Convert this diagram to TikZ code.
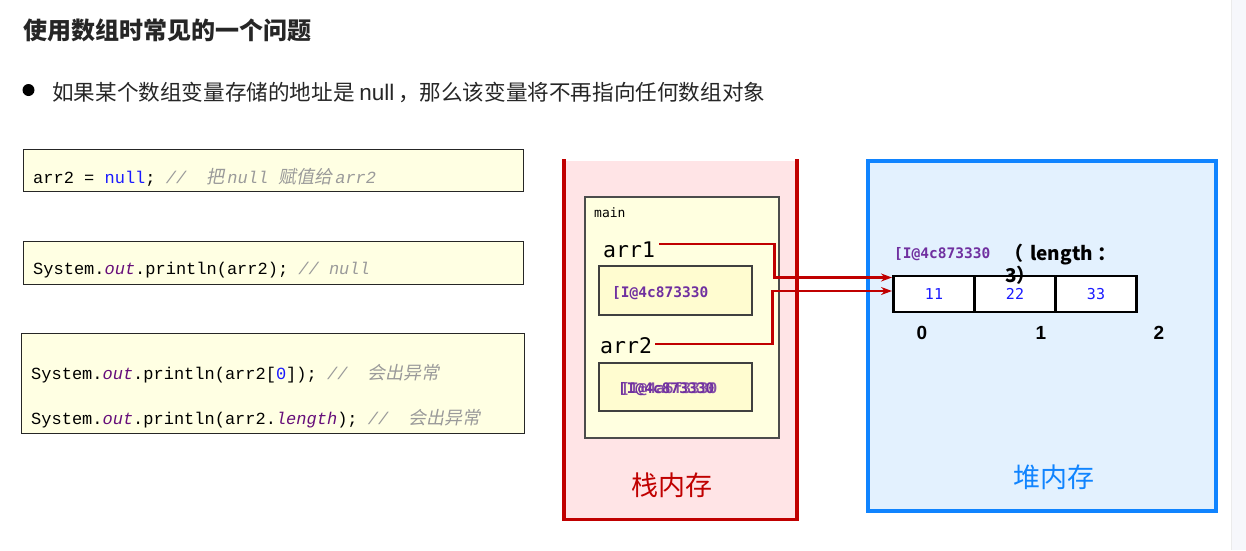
\documentclass[tikz,border=0pt]{standalone}
\usepackage{fontspec}
\setmainfont{Liberation Sans}
\setmonofont{DejaVu Sans Mono}
\newfontfamily\cjk{Noto Sans CJK SC}
\newfontfamily\cjkit[FakeSlant=0.2]{Noto Sans CJK SC}
\newfontfamily\codefont{Liberation Mono}
\usetikzlibrary{arrows.meta}
\definecolor{stackred}{HTML}{C00000}
\definecolor{stackfill}{HTML}{FFE4E6}
\definecolor{heapblue}{HTML}{1084FF}
\definecolor{heapfill}{HTML}{E3F1FE}
\definecolor{codefill}{HTML}{FFFFE3}
\definecolor{mainfill}{HTML}{FFFFE0}
\definecolor{varfill}{HTML}{FFFCD0}
\definecolor{addr}{HTML}{7030A0}
\definecolor{kw}{HTML}{1A1AFF}
\definecolor{fld}{HTML}{660E7A}
\definecolor{cmt}{HTML}{9A9A9A}
\definecolor{band}{HTML}{F6F7FB}
\tikzset{
  codebox/.style={draw=black!85, line width=1pt, fill=codefill},
  codeline/.style={anchor=west, inner sep=0pt, font=\codefont\fontsize{17}{20}\selectfont},
  varbox/.style={draw=black!75, line width=1.3pt, fill=varfill},
  addrtext/.style={anchor=west, inner sep=0pt, text=addr, font=\ttfamily\bfseries\fontsize{14.5}{16}\selectfont},
  varname/.style={anchor=west, inner sep=0pt, font=\ttfamily\fontsize{21.5}{24}\selectfont},
  cell/.style={draw=black, line width=2.2pt, fill=white, minimum width=81pt, minimum height=36pt, inner sep=0pt, text=kw, font=\ttfamily\fontsize{15}{17}\selectfont},
  idx/.style={inner sep=0pt, font=\bfseries\fontsize{19}{21}\selectfont},
  ptr/.style={draw=stackred, line width=2.4pt, -{Stealth[length=11pt,width=8pt]}},
}
\newcommand{\cm}[1]{\textcolor{cmt}{\itshape #1}}
\newcommand{\cmz}[1]{\textcolor{cmt}{\cjkit\fontsize{18}{20}\selectfont #1}}
\begin{document}
\begin{tikzpicture}[x=1pt,y=-1pt]
\useasboundingbox (0,0) rectangle (1246,550);
\fill[white] (0,0) rectangle (1246,550);
\fill[band] (1231,0) rectangle (1246,550);
\draw[black!8, line width=0.8pt] (1231,0) -- (1231,550);

% title and bullet
\node[anchor=west, inner sep=0pt, font=\cjk\bfseries\fontsize{24}{28}\selectfont, text=black!85] (title) at (23,30) {使用数组时常见的一个问题};
\fill (28.5,90) circle (6pt);
\node[anchor=west, inner sep=0pt, font=\cjk\fontsize{21.6}{25}\selectfont, text=black!85] (bullet) at (52,92) {如果某个数组变量存储的地址是\ {\fontspec{Liberation Sans}\fontsize{22.5}{25}\selectfont null}\,，那么该变量将不再指向任何数组对象};

% code boxes
\draw[codebox] (23,149) rectangle (523,191);
\node[codeline] (code1) at (33,177) {arr2 = \textcolor{kw}{null}; \cm{//}\ \ \cmz{把}\,\cm{null}\ \cmz{赋值给}\,\cm{arr2}};
\draw[codebox] (23,241) rectangle (523,284);
\node[codeline] (code2) at (33,270) {System.\textcolor{fld}{\itshape out}.println(arr2); \cm{// null}};
\draw[codebox] (21,333) rectangle (524,433);
\node[codeline] (code3) at (31,374) {System.\textcolor{fld}{\itshape out}.println(arr2[\textcolor{kw}{0}]); \cm{//}\ \ \cmz{会出异常}};
\node[codeline] (code4) at (31,419) {System.\textcolor{fld}{\itshape out}.println(arr2.\textcolor{fld}{\itshape length}); \cm{//}\ \ \cmz{会出异常}};

% stack
\fill[stackfill] (564,161) rectangle (797,520);
\draw[stackred, line width=3.5pt, line cap=rect] (564,161) -- (564,519.5) -- (797,519.5) -- (797,161);
\draw[draw=black!70, line width=1.3pt, fill=mainfill] (585,197) rectangle (779,438);
\node[anchor=west, inner sep=0pt, font=\ttfamily\fontsize{13}{15}\selectfont] (main) at (594,213) {main};
\node[varname] (arr1) at (603,250) {arr1};
\draw[varbox] (599,266) rectangle (752,315);
\node[addrtext] (v1) at (612,293) {[I@4c873330};
\node[varname] (arr2) at (600,346) {arr2};
\draw[varbox] (599,363) rectangle (752,411);
\node[addrtext] (v2) at (618,389) {[I@4c873330};
\node[addrtext, opacity=0.85] (v2b) at (621,389) {[I@4a6f3330};
\node[inner sep=0pt, text=stackred, font=\cjk\fontsize{27}{30}\selectfont] (stacklbl) at (672,485) {栈内存};

% heap
\draw[draw=heapblue, fill=heapfill, line width=4pt] (868,161) rectangle (1216,511);
\node[addrtext] (haddr) at (894,254) {[I@4c873330};
\node[cell] (c0) at (934,294) {11};
\node[cell] (c1) at (1015,294) {22};
\node[cell] (c2) at (1096,294) {33};
\node[anchor=west, inner sep=0pt, font=\cjk\bfseries\fontsize{19}{22}\selectfont] (len) at (1004,255) {（\hspace{7pt}length\ ：};
\node[anchor=west, inner sep=0pt, font=\cjk\bfseries\fontsize{19}{22}\selectfont] (len3) at (1005,275) {3）};
\node[idx] (i0) at (922,333) {0};
\node[idx] (i1) at (1041,333) {1};
\node[idx] (i2) at (1159,333) {2};
\node[inner sep=0pt, text=heapblue, font=\cjk\fontsize{27}{30}\selectfont] (heaplbl) at (1054,477) {堆内存};

% pointers
\coordinate (s1) at (659,244);
\coordinate (b1) at (774.5,277.5);
\coordinate (t1) at (892,277.5);
\coordinate (s2) at (655,344);
\coordinate (b2) at (772.5,291);
\coordinate (t2) at (892,291);
\draw[ptr] (s1) -| (b1) -- (t1);
\draw[ptr] (s2) -| (b2) -- (t2);
\end{tikzpicture}
\end{document}
